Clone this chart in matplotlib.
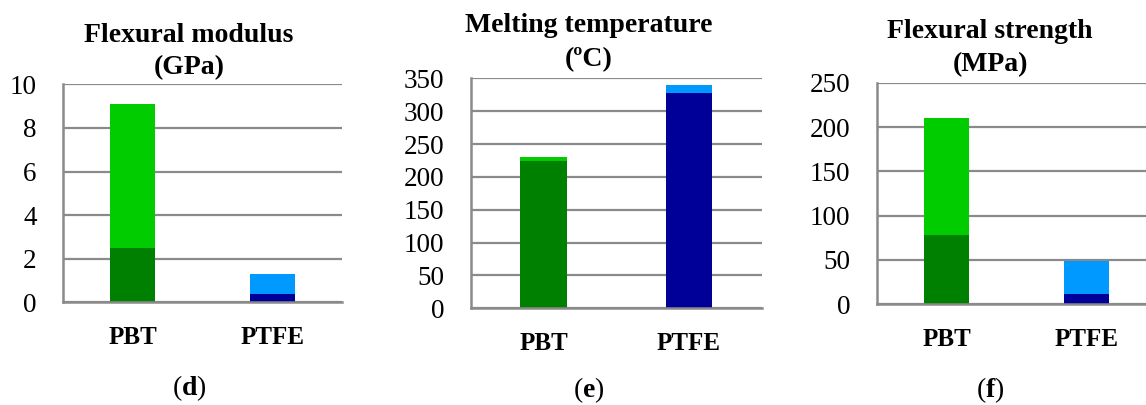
import numpy as np
import matplotlib.pyplot as plt

categories = ['PBT', 'PTFE']

modulus_min = [2.5, 0.4]
modulus_max = [9.1, 1.3]

melt_min = [224, 327]
melt_max = [230, 340]

strength_min = [78, 12]
strength_max = [210, 49]

titles = [('Flexural modulus', '(GPa)'),
          ('Melting temperature', '(ºC)'),
          ('Flexural strength', '(MPa)')]
panel_tags = ['d', 'e', 'f']

dark = ['#008000', '#000099']
light = ['#00CC00', '#0099FF']
grid_col = '#8a8a8a'

plt.rcParams['font.family'] = ['Liberation Serif', 'DejaVu Serif']
plt.rcParams['mathtext.fontset'] = 'custom'
plt.rcParams['mathtext.rm'] = 'Liberation Serif'
plt.rcParams['mathtext.bf'] = 'Liberation Serif:bold'

W, H = 1146, 405
fig = plt.figure(figsize=(W / 100, H / 100), dpi=100)


def px_axes(left, right, top, bottom):
    return fig.add_axes([left / W, 1 - bottom / H, (right - left) / W, (bottom - top) / H])


def draw_panel(ax, lo, hi, ymax, step):
    x = np.arange(len(categories))
    lo = np.array(lo, dtype=float)
    hi = np.array(hi, dtype=float)
    ax.bar(x, lo, width=0.32, color=dark, zorder=2)
    ax.bar(x, hi - lo, bottom=lo, width=0.32, color=light, zorder=2)
    ax.set_xlim(-0.5, 1.5)
    ax.set_ylim(0, ymax)
    ax.set_yticks(np.arange(0, ymax + step / 2, step))
    ax.set_xticks(x)
    ax.set_xticklabels(categories, fontweight='bold', fontsize=18)
    ax.tick_params(axis='both', length=0)
    ax.tick_params(axis='y', pad=19, labelsize=19.5)
    ax.tick_params(axis='x', pad=17)
    ax.yaxis.grid(True, color=grid_col, linewidth=1.6, zorder=0)
    ax.set_axisbelow(True)
    for s in ['top', 'right']:
        ax.spines[s].set_visible(False)
    for s in ['left', 'bottom']:
        ax.spines[s].set_color(grid_col)
        ax.spines[s].set_linewidth(1.8)


ax_d = px_axes(63, 342, 84.3, 302.3)
draw_panel(ax_d, modulus_min, modulus_max, 10, 2)

ax_e = px_axes(470.7, 761.7, 78.3, 308.3)
draw_panel(ax_e, melt_min, melt_max, 350, 50)

ax_f = px_axes(876.7, 1156.7, 82.7, 304.3)
draw_panel(ax_f, strength_min, strength_max, 250, 50)

# titles and panel tags (pixel positions of text centres)
title_pos = [(189, 35, 68), (588.5, 25, 60), (990, 31.5, 65)]
tag_y = [388, 390, 390]
for (t1, t2), (cx, y1, y2), tag, ty in zip(titles, title_pos, panel_tags, tag_y):
    fig.text(cx / W, 1 - y1 / H, t1, ha='center', va='center', fontsize=20, fontweight='bold')
    fig.text(cx / W, 1 - y2 / H, t2, ha='center', va='center', fontsize=20, fontweight='bold')
    fig.text(cx / W, 1 - ty / H, r'$\mathrm{(}\mathbf{' + tag + r'}\mathrm{)}$',
             ha='center', va='center', fontsize=20)

fig.savefig('out.png', dpi=100)
